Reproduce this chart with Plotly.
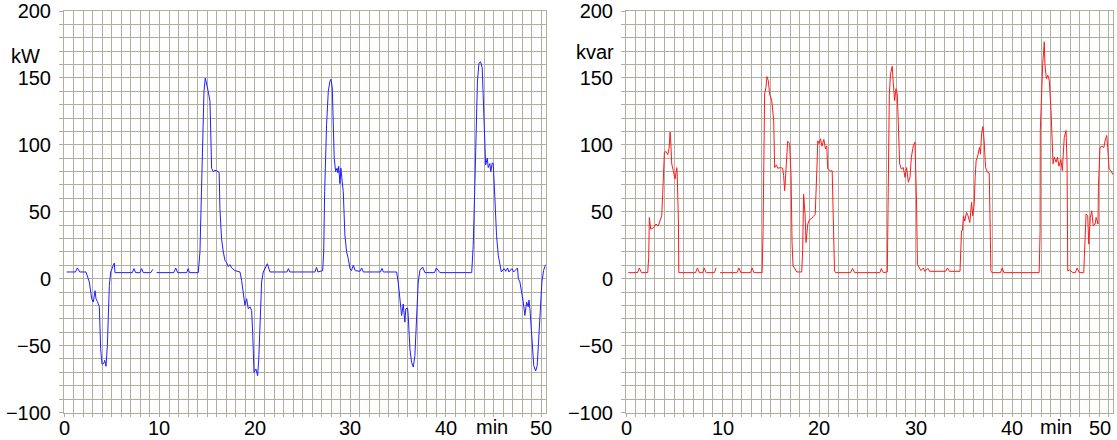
import plotly.graph_objects as go

# ---------------- data ----------------
t_kw = [0.28, 1.2, 1.4, 1.65, 2.3, 2.65, 2.9, 3.07, 3.25, 3.35, 3.49, 3.7, 3.84, 3.98, 4.19, 4.26, 4.4, 4.54,
        4.75, 4.89, 5.17, 5.27, 5.34, 7.15, 7.33, 7.5, 7.95, 8.13, 8.3, 9.1, 9.3, None,
        9.7, 11.5, 11.7, 11.9, 12.85, 13.0, 13.15, 14.06, 14.24, 14.4, 14.6, 14.66, 14.8, 14.94, 15.1, 15.29,
        15.35, 15.46, 15.63, 15.8, 16.16, 16.25, 16.33, 16.5, 16.68, 16.86, 17.03, 17.2, 17.38, 17.56, 17.9,
        18.43, 18.6, 18.78, 18.95, 19.13, 19.3, 19.48, 19.65, 19.76, 19.9, 20.1, 20.28, 20.4, 20.6, 20.7,
        20.87, 21.15, 21.3, 21.57, 23.35, 23.5, 23.65, 26.28, 26.45, 26.6, 27.09, 27.2, 27.3, 27.5, 27.68,
        27.85, 27.96, 28.1, 28.2, 28.3, 28.45, 28.6, 28.7, 28.77, 28.9, 29.0, 29.14, 29.25, 29.42, 29.6,
        29.77, 29.95, 30.1, 30.3, 30.5, 31.0, 31.17, 31.35, 33.15, 33.3, 33.45, 34.84, 35.0, 35.2, 35.36,
        35.53, 35.7, 35.8, 35.98, 36.05, 36.23, 36.4, 36.58, 36.75, 36.93, 37.1, 37.28, 37.56, 37.8, 38.8,
        39.0, 39.37, 42.7, 42.86, 43.04, 43.2, 43.3, 43.46, 43.63, 43.8, 43.9, 44.0, 44.08, 44.16, 44.33,
        44.43, 44.6, 44.7, 44.85, 44.95, 45.13, 45.3, 45.48, 45.65, 45.8, 46.1, 46.26, 46.46, 46.6, 46.9,
        47.1, 47.5, 47.58, 47.75, 47.93, 48.1, 48.27, 48.45, 48.62, 48.7, 48.8, 48.9, 49.04, 49.2, 49.4,
        49.56, 49.7, 49.88, 50.05, 50.23, 50.44]
p_kw = [5, 5, 8, 5, 5, -2.5, -15, -17.5, -9, -15, -17, -21, -52.5, -64, -63, -61, -65.5, -50,
        -5, 5, 10, 11.7, 4.5, 4.5, 7.5, 4.5, 4.5, 7.5, 4.5, 4.5, 7, None,
        4.5, 4.5, 8, 4.5, 4.5, 7.5, 4.5, 4.5, 20, 60, 115, 140, 150, 143.7, 140, 132.5,
        115, 82.5, 80, 81, 80, 79, 52.5, 30, 20, 13.7, 12, 9, 10.5, 8, 6,
        5, -1.2, -12.5, -20, -15, -22.5, -21, -23.8, -40, -70, -67.5, -72.5, -60, -27.5, -2.5,
        5, 8.7, 11.2, 5, 5, 7.5, 5, 5, 8.5, 5, 6, 20, 65, 115, 140,
        147.5, 149, 142.5, 120, 90, 80, 82.5, 79, 84, 71, 82.5, 72.5, 65, 32.5, 20,
        15, 7.5, 6, 10, 6, 5.5, 8, 5, 5, 7.7, 5, 5, -2.5, -17.5, -27.5,
        -19, -32.5, -22.5, -22, -27.5, -52.5, -62.5, -66, -57.5, -27.5, -2.5, 6.2, 8.7, 4.5, 4.5,
        8, 4.5, 4.5, 25, 72.5, 110, 147.5, 161, 162, 157.5, 135, 107.5, 97.5, 85, 90,
        83, 86, 80, 86.5, 86, 60, 32.5, 17.5, 10, 5, 7.5, 5.5, 8, 5, 7.5,
        5, 8, 0, -2.5, -10, -17.5, -27.5, -17.5, -21, -16, -22.5, -35, -52.5, -65, -69,
        -65, -47.5, -22.5, -2.5, 6.2, 10.5]

t_kvar = [0.24, 1.2, 1.38, 1.6, 2.25, 2.35, 2.42, 2.56, 2.84, 3.1, 3.34, 3.53, 3.7, 3.8, 3.87, 3.98, 4.14,
          4.33, 4.47, 4.57, 4.63, 4.74, 4.9, 5.08, 5.26, 5.3, 5.43, 5.47, 7.2, 7.4, 7.6, 7.95, 8.1, 8.3,
          9.15, 9.33, None,
          9.75, 11.5, 11.7, 11.9, 12.9, 13.07, 13.25, 14.1, 14.2, 14.26, 14.36, 14.5, 14.6, 14.74, 14.88,
          15.1, 15.3, 15.4, 15.58, 15.72, 16.0, 16.23, 16.33, 16.44, 16.58, 16.75, 16.95, 17.1, 17.2, 17.3,
          17.45, 17.7, 18.2, 18.3, 18.4, 18.55, 18.65, 18.83, 19.0, 19.24, 19.4, 19.6, 19.77, 19.87, 20.0,
          20.15, 20.3, 20.5, 20.66, 20.8, 20.9, 21.18, 21.36, 21.42, 21.53, 21.6, 21.7, 23.26, 23.47, 23.7,
          26.3, 26.45, 26.65, 27.07, 27.17, 27.28, 27.4, 27.58, 27.68, 27.83, 27.97, 28.1, 28.2, 28.35,
          28.52, 28.73, 28.9, 29.07, 29.25, 29.42, 29.56, 29.77, 29.94, 30.04, 30.1, 30.19, 30.36, 30.54,
          30.8, 30.95, 31.29, 31.45, 33.1, 33.3, 33.5, 34.6, 34.76, 34.85, 34.96, 35.1, 35.27, 35.43, 35.62,
          35.8, 35.92, 36.07, 36.17, 36.27, 36.4, 36.62, 36.72, 36.83, 36.97, 37.1, 37.25, 37.45, 37.63,
          37.73, 37.8, 37.9, 38.8, 38.97, 39.15, 42.8, 42.9, 42.92, 43.06, 43.17, 43.27, 43.33, 43.4, 43.55,
          43.7, 43.85, 44.03, 44.13, 44.24, 44.37, 44.55, 44.7, 44.85, 45.05, 45.2, 45.4, 45.59, 45.69,
          45.76, 45.93, 46.3, 46.55, 46.73, 46.96, 47.42, 47.48, 47.66, 47.83, 47.94, 48.1, 48.25, 48.4,
          48.6, 48.7, 48.9, 48.94, 49.1, 49.3, 49.5, 49.67, 49.8, 49.9, 50.05, 50.26, 50.44]
q_kvar = [4.5, 4.5, 8, 4.5, 4.5, 15.7, 45.7, 37, 38, 40.8, 39.5, 43, 47, 63, 80.7, 94.5, 95,
          92.7, 97.7, 109.5, 103, 85.7, 80.7, 74.5, 83, 79, 43, 4.5, 4.5, 8, 4.5, 4.5, 8, 4.5,
          4.5, 8.2, None,
          4.5, 4.5, 8, 4.5, 4.5, 8, 4.5, 4.5, 35.7, 100.7, 138, 143, 151, 148, 138,
          133, 118, 83, 85, 82.5, 83, 82.5, 77, 65.7, 88, 102.7, 101, 77, 28, 9.5,
          8, 5, 5, 20.8, 63, 48, 27, 40.8, 44, 45, 46.5, 48, 80.7, 103, 101,
          104.5, 99, 104, 97, 99, 82, 80.5, 80.5, 60.7, 25.8, 5.8, 4.5, 4.5, 7.7, 4.5,
          4.5, 7.5, 4.5, 5, 68, 138, 153, 158.7, 147, 133, 142, 138, 118, 85.8,
          82, 83, 75.7, 83, 72, 75.7, 90.7, 99.5, 102, 80.5, 55.8, 10.8, 8, 6,
          8, 5.5, 7.7, 5.5, 5.5, 8, 5.5, 5.5, 35.8, 36, 47, 43, 49.5, 47, 42,
          57, 47, 55.5, 75.7, 88, 90.7, 98, 93, 108, 113.7, 103, 83, 79.5, 79,
          40.8, 5.8, 4.5, 4.5, 8, 4.5, 4.5, 35.8, 110.7, 150.7, 160.7, 170.7, 177, 160, 149.5,
          152, 148, 125.7, 100.7, 85.8, 90.7, 87, 90.7, 84, 89, 80.7, 105.7, 110.7, 85.8,
          5.8, 6.5, 4.5, 4.5, 8, 4.5, 4.5, 15.7, 48.3, 47, 25.8, 45.7, 50.7, 39.5,
          40.8, 45.7, 40.8, 68, 98, 99, 98, 104.5, 107, 98, 82, 80.5, 77.7]

x_ticks = [0, 10, 20, 30, 40, 50]
y_ticks = [-100, -50, 0, 50, 100, 150, 200]
x_unit = "min"
y_units = ["kW", "kvar"]

# ---------------- figure ----------------
W, H = 1117, 440
GRID = "#b1ad9f"
FONT = "Liberation Sans, Arial, sans-serif"
X_MAX = 50.45

fig = go.Figure()
fig.add_trace(go.Scatter(x=t_kw, y=p_kw, mode="lines", line=dict(color="#1f1fff", width=1),
                         connectgaps=False, xaxis="x", yaxis="y", showlegend=False))
fig.add_trace(go.Scatter(x=t_kvar, y=q_kvar, mode="lines", line=dict(color="#ff1a1a", width=1),
                         connectgaps=False, xaxis="x2", yaxis="y2", showlegend=False))


def xax(domain, anchor):
    return dict(domain=domain, anchor=anchor, range=[0, X_MAX], tickmode="array", tickvals=x_ticks,
                showticklabels=False,
                showgrid=True, gridcolor=GRID, gridwidth=1, zeroline=False,
                ticks="outside", ticklen=3, tickcolor=GRID, tickwidth=1,
                showline=True, linecolor=GRID, linewidth=1, mirror=True,
                minor=dict(dtick=1, tick0=0, showgrid=True, gridcolor=GRID, gridwidth=1,
                           ticks="outside", ticklen=3, tickcolor=GRID),
                fixedrange=True, automargin=False)


def yax(domain, anchor):
    return dict(domain=domain, anchor=anchor, range=[-100, 200], tickmode="array", tickvals=y_ticks,
                showgrid=True, gridcolor=GRID, gridwidth=1, zeroline=False,
                ticks="outside", ticklen=4, tickcolor=GRID, tickwidth=1,
                tickfont=dict(family=FONT, size=20, color="#000000"),
                ticklabelstandoff=4,
                showline=True, linecolor=GRID, linewidth=1, mirror=True,
                minor=dict(dtick=10, tick0=0, showgrid=True, gridcolor=GRID, gridwidth=1,
                           ticks="outside", ticklen=4, tickcolor=GRID),
                fixedrange=True, automargin=False)


xdoms = [[64 / W, 545.7 / W], [626 / W, 1113 / W]]
ydom = [1 - 412.5 / H, 1 - 11 / H]
fig.update_layout(
    width=W, height=H,
    margin=dict(l=0, r=0, t=0, b=0),
    paper_bgcolor="white", plot_bgcolor="white",
    xaxis=xax(xdoms[0], "y"),
    yaxis=yax(ydom, "x"),
    xaxis2=xax(xdoms[1], "y2"),
    yaxis2=yax(ydom, "x2"),
    font=dict(family=FONT, size=20, color="#000000"),
)

# x tick labels (kept inside the canvas at the right edge)
label_y = 1 - 427.5 / H
for i, xref in enumerate(["x", "x2"]):
    d0, d1 = xdoms[i]
    for v in x_ticks:
        px_center = (d0 + (d1 - d0) * v / X_MAX) * W
        anchor = "center"
        xpos = v
        if px_center + 11 > W - 2:
            anchor = "right"
            xpos = X_MAX
        fig.add_annotation(xref=xref, yref="paper", x=xpos, y=label_y, text=str(v),
                           showarrow=False, xanchor=anchor, yanchor="middle",
                           font=dict(family=FONT, size=20, color="#000000"))

annots = [
    dict(text=y_units[0], x=25 / W, y=1 - 56 / H, ya="middle"),
    dict(text=y_units[1], x=595 / W, y=1 - 52 / H, ya="middle"),
    dict(text=x_unit, x=492 / W, y=0.0, ya="bottom"),
    dict(text=x_unit, x=1056 / W, y=0.0, ya="bottom"),
]
for a in annots:
    fig.add_annotation(xref="paper", yref="paper", x=a["x"], y=a["y"], text=a["text"],
                       showarrow=False, xanchor="center", yanchor=a["ya"],
                       font=dict(family=FONT, size=20, color="#000000"))

fig.write_html("out.html", config={"displayModeBar": False},
               post_script="document.body.style.margin='0px';document.body.style.overflow='hidden';")
